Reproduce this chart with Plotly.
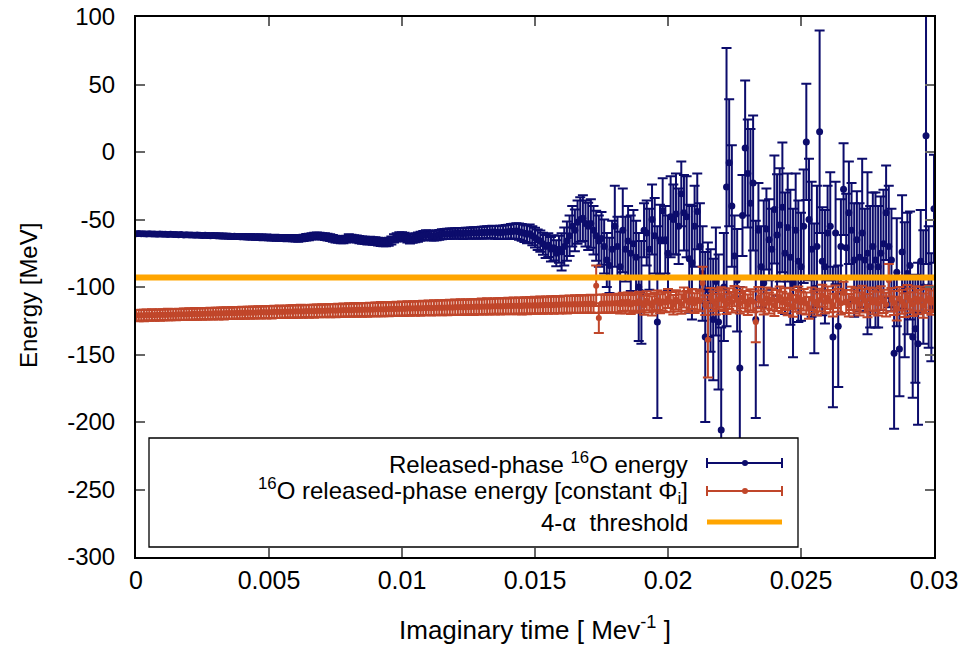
import numpy as np
import plotly.graph_objects as go

# ---------------- data ----------------
imag_time = np.round(np.linspace(0.0, 0.03, 301), 6)

released_energy = [
    -60.5,-60.4,-60.6,-60.5,-60.7,-60.6,-60.8,-60.7,-60.9,-60.8,
    -61.0,-60.9,-61.1,-61.0,-61.2,-61.1,-61.3,-61.2,-61.4,-61.3,
    -61.5,-61.4,-61.6,-61.5,-61.7,-61.8,-61.7,-61.9,-62.0,-61.9,
    -62.1,-62.0,-62.2,-62.3,-62.2,-62.4,-62.5,-62.4,-62.6,-62.7,
    -62.6,-62.8,-62.9,-62.8,-63.0,-63.1,-63.0,-63.2,-63.3,-63.2,
    -63.4,-63.5,-63.4,-63.6,-63.7,-63.6,-63.8,-63.9,-63.7,-63.8,
    -64.0,-64.1,-63.9,-63.6,-63.2,-62.9,-62.5,-62.3,-62.0,-62.2,
    -62.5,-62.7,-63.0,-63.5,-64.0,-64.5,-64.8,-65.0,-65.1,-64.5,
    -63.5,-63.8,-64.2,-64.5,-64.9,-65.3,-65.5,-65.8,-65.6,-65.9,
    -66.0,-66.4,-66.8,-67.0,-66.8,-66.5,-65.5,-64.0,-63.2,-62.5,
    -62.7,-63.0,-63.8,-64.5,-64.0,-63.5,-63.0,-62.4,-61.9,-61.5,
    -61.7,-62.0,-62.0,-61.8,-61.4,-61.0,-60.8,-60.6,-60.5,-60.4,
    -60.3,-60.2,-60.3,-60.4,-60.1,-60.2,-60.0,-59.9,-60.0,-59.8,
    -59.7,-59.6,-59.5,-59.4,-59.3,-59.5,-59.7,-59.6,-59.5,-59.2,
    -59.0,-58.8,-58.7,-58.6,-59.0,-59.6,-60.2,-61.0,-60.5,-62.0,
    -63.5,-65.0,-66.0,-68.0,-70.0,-69.0,-72.0,-71.0,-75.0,-72.0,
    -74.0,-70.0,-66.0,-62.0,-55.0,-58.0,-52.0,-50.0,-49.0,-53.0,
    -55.0,-53.0,-58.0,-62.0,-66.0,-64.0,-70.0,-80.0,-84.0,-72.0,
    -55.0,-70.0,-85.0,-58.0,-72.0,-66.0,-75.0,-68.0,-78.0,-100.0,
    -104.0,-58.0,-60.0,-72.0,-50.0,-62.0,-126.0,-65.0,-43.5,-65.0,
    -75.0,-48.0,-50.0,-46.0,-55.0,-31.0,-45.0,-48.0,-79.0,-82.0,
    -55.0,-44.0,-70.0,-90.0,-137.0,-102.0,-110.0,-124.0,-96.0,-126.0,
    -206.0,-100.0,-26.0,-8.0,-40.0,-77.0,-95.0,-160.0,-47.0,3.0,
    -16.0,-38.0,-23.0,-124.0,-58.0,-85.0,-97.0,-57.0,-65.0,-72.0,
    -42.5,-61.5,-54.0,-41.0,-75.0,-56.0,-78.0,-97.0,-58.0,-81.0,
    -85.0,-55.0,7.5,-50.0,-72.0,-101.0,-70.0,15.0,-81.0,-85.0,
    -60.0,-55.0,-137.0,-60.0,-129.0,-70.0,-27.5,-71.0,-45.0,-58.0,
    -80.0,-65.0,-78.0,-60.0,-80.0,-75.0,-85.0,-70.0,-80.0,-85.0,
    -75.0,-68.0,-45.0,-70.0,-80.0,-149.0,-89.0,-146.0,-74.0,-102.0,
    -90.0,-84.0,-137.0,-131.0,-142.0,-81.0,-100.0,12.0,-100.0,-115.0,
    -42.0,
]

released_error = [
    0.8,0.8,0.8,0.9,0.9,0.9,0.9,1.0,1.0,1.0,1.0,1.1,1.1,1.1,1.1,1.2,1.2,1.2,1.2,1.3,
    1.3,1.3,1.3,1.4,1.4,1.4,1.4,1.5,1.5,1.5,1.5,1.6,1.6,1.6,1.6,1.7,1.7,1.7,1.7,1.8,
    1.8,1.8,1.8,1.9,1.9,1.9,1.9,2.0,2.0,2.0,2.0,2.1,2.1,2.1,2.1,2.2,2.2,2.2,2.2,2.3,
    2.3,2.3,2.3,2.3,2.4,2.4,2.4,2.4,2.4,2.4,2.4,2.5,2.5,2.5,2.5,2.5,2.5,2.5,2.5,2.5,
    2.5,2.5,2.6,2.6,2.6,2.7,2.7,2.7,2.8,2.8,2.8,2.9,2.9,2.9,3.0,3.0,3.0,3.1,3.1,3.1,
    3.2,3.2,3.2,3.3,3.3,3.3,3.4,3.4,3.4,3.5,3.5,3.5,3.6,3.6,3.6,3.7,3.7,3.7,3.8,3.8,
    3.8,3.9,3.9,4.0,4.0,4.1,4.1,4.2,4.2,4.3,4.3,4.4,4.5,4.5,4.6,4.7,4.8,4.9,5.0,5.1,
    5.2,5.4,5.6,5.8,6.0,6.2,6.4,6.6,6.8,7.0,7.3,7.6,7.9,8.2,8.5,8.8,9.1,9.4,9.7,10.0,
    13.8,14.0,14.5,15.0,15.0,15.5,16.0,16.5,17.0,17.0,17.5,18.0,18.0,18.5,19.0,19.5,20.0,20.0,20.5,21.0,
    30.0,22.0,26.0,31.0,24.0,26.0,28.0,25.0,27.0,40.0,38.0,20.0,24.0,30.0,26.0,28.0,71.0,26.0,24.0,25.0,
    28.0,30.0,26.0,30.0,28.0,24.0,28.0,30.0,40.0,42.0,30.0,28.0,32.0,35.0,63.0,35.0,38.0,45.0,40.0,50.0,
    76.0,40.0,103.0,47.0,45.0,30.0,38.0,60.0,30.0,50.0,40.0,55.0,50.0,73.0,35.0,30.0,61.0,30.0,30.0,30.0,
    40.0,45.0,42.0,48.0,45.0,40.0,50.0,55.0,42.0,45.0,40.0,42.0,43.0,45.0,50.0,48.0,45.0,75.0,40.0,42.0,
    35.0,40.0,52.0,38.0,45.0,35.0,34.0,40.0,38.0,35.0,42.0,36.0,40.0,55.0,38.0,60.0,45.0,40.0,50.0,45.0,
    42.0,40.0,35.0,45.0,38.0,56.0,40.0,35.0,42.0,50.0,45.0,40.0,45.0,40.0,60.0,38.0,42.0,95.0,45.0,40.0,
    40.0,
]

const_phi_energy = [
    -121.0,-121.2,-120.9,-121.1,-120.8,-121.0,-120.7,-120.9,-120.6,-120.8,
    -120.5,-120.7,-120.4,-120.6,-120.3,-120.5,-120.2,-120.4,-120.1,-120.3,
    -120.0,-120.2,-119.9,-120.1,-119.8,-120.0,-119.7,-119.9,-119.6,-119.8,
    -119.5,-119.7,-119.4,-119.6,-119.3,-119.5,-119.2,-119.4,-119.1,-119.3,
    -119.0,-119.2,-118.9,-119.1,-118.8,-119.0,-118.7,-118.9,-118.6,-118.8,
    -118.5,-118.7,-118.4,-118.6,-118.3,-118.5,-118.2,-118.4,-118.1,-118.3,
    -118.0,-118.2,-117.9,-118.1,-117.8,-118.0,-117.7,-117.9,-117.6,-117.8,
    -117.5,-117.7,-117.4,-117.6,-117.3,-117.5,-117.2,-117.4,-117.1,-117.3,
    -117.0,-117.2,-116.9,-117.1,-116.8,-117.0,-116.7,-116.9,-116.6,-116.8,
    -116.5,-116.7,-116.4,-116.6,-116.3,-116.5,-116.2,-116.4,-116.1,-116.3,
    -116.0,-116.3,-115.8,-116.1,-115.7,-116.0,-115.6,-115.9,-115.5,-115.8,
    -115.4,-115.8,-115.3,-115.6,-115.2,-115.5,-115.1,-115.4,-115.0,-115.3,
    -114.9,-115.2,-114.8,-115.1,-114.7,-115.0,-114.6,-114.9,-114.5,-114.8,
    -114.4,-114.7,-114.3,-114.6,-114.2,-114.5,-114.1,-114.4,-114.0,-114.3,
    -113.9,-114.2,-113.8,-114.1,-113.7,-114.3,-113.6,-114.0,-113.5,-113.9,
    -113.4,-113.8,-113.3,-113.7,-113.2,-113.6,-113.1,-113.5,-113.0,-113.4,
    -113.0,-112.8,-113.2,-112.7,-113.0,-112.6,-112.9,-112.5,-112.8,-112.4,
    -112.7,-112.3,-112.6,-99.0,-123.0,-112.2,-112.5,-112.1,-112.4,-112.0,
    -112.3,-111.9,-112.8,-111.0,-112.5,-110.8,-113.0,-111.6,-112.2,-110.5,
    -111.8,-113.5,-110.2,-112.0,-114.0,-111.2,-109.8,-112.4,-110.5,-111.5,
    -108.5,-111.0,-113.2,-109.5,-110.8,-112.6,-107.8,-110.2,-111.5,-108.9,
    -112.0,-109.4,-110.6,-97.0,-113.5,-139.0,-108.2,-110.5,-112.8,-109.0,
    -107.5,-110.2,-112.5,-108.6,-111.3,-106.8,-109.9,-112.1,-108.0,-110.7,
    -113.2,-109.5,-111.0,-126.0,-107.9,-110.4,-112.6,-108.3,-111.8,-109.2,
    -113.5,-110.0,-107.6,-111.4,-109.0,-112.9,-108.5,-114.0,-110.3,-107.8,
    -111.6,-109.4,-112.2,-115.5,-108.7,-110.9,-113.0,-109.6,-106.5,-111.2,
    -108.0,-110.5,-113.4,-107.2,-109.8,-112.0,-104.5,-110.8,-113.5,-108.4,
    -111.0,-109.2,-112.6,-107.5,-110.2,-113.8,-108.9,-111.4,-109.6,-112.3,
    -108.2,-110.6,-113.0,-95.0,-109.5,-111.8,-116.0,-108.7,-110.9,-113.5,
    -107.6,-110.1,-112.7,-108.5,-111.2,-109.0,-113.8,-110.4,-108.1,-111.6,
    -109.3,
]

const_phi_error = [
    4.0,4.1,4.0,4.2,4.1,4.0,4.2,4.1,4.0,4.2,4.1,4.0,4.2,4.1,4.0,4.2,4.1,4.0,4.2,4.1,
    4.2,4.1,4.3,4.2,4.1,4.3,4.2,4.1,4.3,4.2,4.1,4.3,4.2,4.4,4.3,4.2,4.4,4.3,4.2,4.4,
    4.3,4.4,4.3,4.5,4.4,4.3,4.5,4.4,4.3,4.5,4.4,4.6,4.5,4.4,4.6,4.5,4.4,4.6,4.5,4.7,
    4.6,4.5,4.7,4.6,4.5,4.7,4.6,4.8,4.7,4.6,4.8,4.7,4.6,4.8,4.7,4.9,4.8,4.7,4.9,4.8,
    4.9,4.8,5.0,4.9,4.8,5.0,4.9,5.1,5.0,4.9,5.1,5.0,5.2,5.1,5.0,5.2,5.1,5.0,5.2,5.1,
    5.2,5.1,5.3,5.2,5.1,5.3,5.2,5.4,5.3,5.2,5.4,5.3,5.5,5.4,5.3,5.5,5.4,5.6,5.5,5.4,
    5.6,5.5,5.7,5.6,5.5,5.7,5.6,5.8,5.7,5.6,5.8,5.7,5.9,5.8,5.7,5.9,5.8,6.0,5.9,5.8,
    6.0,5.9,6.1,6.0,5.9,6.1,6.0,6.2,6.1,6.0,6.2,6.1,6.3,6.2,6.1,6.3,6.2,6.4,6.3,6.2,
    6.4,6.3,6.5,6.4,6.3,6.5,6.4,6.6,6.5,6.4,6.6,6.5,6.7,15.0,11.0,6.6,6.8,6.7,6.6,6.8,
    6.7,6.9,6.8,6.7,6.9,6.8,7.0,6.9,6.8,7.0,6.9,7.1,7.0,6.9,7.1,7.0,7.2,7.1,7.0,7.2,
    7.1,7.3,7.2,7.1,7.3,7.2,7.4,7.3,7.2,7.4,7.3,7.5,7.4,12.0,7.3,28.0,7.5,7.4,7.6,7.5,
    7.4,7.6,7.5,7.7,7.6,7.5,7.7,7.6,7.8,7.7,7.6,7.8,7.7,15.0,7.9,7.8,7.7,7.9,7.8,8.0,
    7.9,7.8,8.0,7.9,8.1,8.0,7.9,8.1,8.0,8.2,8.1,8.0,8.2,8.1,8.3,8.2,8.1,8.3,8.2,8.4,
    8.3,8.2,8.4,8.3,8.5,8.4,8.3,8.5,8.4,8.6,8.5,8.4,8.6,8.5,8.7,8.6,8.5,8.7,8.6,8.8,
    8.7,8.6,8.8,12.0,8.7,8.9,8.8,8.7,8.9,8.8,9.0,8.9,8.8,9.0,8.9,9.1,9.0,8.9,9.1,9.0,
    9.2,
]

threshold_time = [0.0, 0.03]
threshold_energy = [-93.0, -93.0]

x_ticks = [0, 0.005, 0.01, 0.015, 0.02, 0.025, 0.03]
x_tick_labels = ["0", "0.005", "0.01", "0.015", "0.02", "0.025", "0.03"]
y_ticks = [100, 50, 0, -50, -100, -150, -200, -250, -300]
y_tick_labels = ["100", "50", "0", "-50", "-100", "-150", "-200", "-250", "-300"]

legend_labels = [
    "Released-phase <sup>16</sup>O energy",
    "<sup>16</sup>O released-phase energy [constant Φ<sub>i</sub>]",
    "4-α  threshold",
]
x_title = "Imaginary time [ Mev<sup>-1</sup> ]"
y_title = "Energy [MeV]"

BLUE = "#0c0c6c"
RED = "#c0462a"
ORANGE = "#ffa500"
FONT = "Liberation Sans, Arial, sans-serif"

fig = go.Figure()
fig.add_trace(go.Scatter(
    x=imag_time, y=released_energy, mode="markers",
    marker=dict(color=BLUE, size=7, line=dict(width=0)),
    error_y=dict(type="data", array=released_error, color=BLUE, thickness=2, width=5),
    showlegend=False,
))
fig.add_trace(go.Scatter(
    x=imag_time, y=const_phi_energy, mode="markers",
    marker=dict(color=RED, size=6, line=dict(width=0)),
    error_y=dict(type="data", array=const_phi_error, color=RED, thickness=2, width=5),
    showlegend=False,
))
fig.add_trace(go.Scatter(
    x=threshold_time, y=threshold_energy, mode="lines",
    line=dict(color=ORANGE, width=6), showlegend=False,
))

FIG_W, FIG_H = 966, 646
L, R, T, B = 136, 934, 17, 557   # pixel coordinates of plot area


def px(xp):
    return (xp - L) / (R - L)


def py(yp):
    return (B - yp) / (B - T)


shapes = [dict(type="rect", xref="paper", yref="paper",
               x0=px(149), x1=px(798), y0=py(547), y1=py(438),
               line=dict(color="black", width=1.3), fillcolor="white", layer="above")]
annotations = []
rows = [463, 491, 522]
colors = [BLUE, RED, ORANGE]
for k, (row, col, lab) in enumerate(zip(rows, colors, legend_labels)):
    annotations.append(dict(xref="paper", yref="paper", x=px(690), y=py(row),
                            text=lab, showarrow=False, xanchor="right", yanchor="middle",
                            font=dict(family=FONT, size=24, color="black")))
    if k < 2:
        shapes.append(dict(type="line", xref="paper", yref="paper", x0=px(707), x1=px(782),
                           y0=py(row), y1=py(row), line=dict(color=col, width=2), layer="above"))
        for cx in (707, 782):
            shapes.append(dict(type="line", xref="paper", yref="paper", x0=px(cx), x1=px(cx),
                               y0=py(row - 5), y1=py(row + 5), line=dict(color=col, width=2),
                               layer="above"))
        shapes.append(dict(type="circle", xref="paper", yref="paper", xsizemode="pixel",
                           ysizemode="pixel", xanchor=px(745), yanchor=py(row),
                           x0=-3, x1=3, y0=-3, y1=3, fillcolor=col, line=dict(color=col, width=0),
                           layer="above"))
    else:
        shapes.append(dict(type="line", xref="paper", yref="paper", x0=px(707), x1=px(782),
                           y0=py(row), y1=py(row), line=dict(color=col, width=5), layer="above"))

# axis titles
annotations.append(dict(xref="paper", yref="paper", x=px(535), y=py(628), text=x_title,
                        showarrow=False, xanchor="center", yanchor="middle",
                        font=dict(family=FONT, size=26, color="black")))
annotations.append(dict(xref="paper", yref="paper", x=px(29), y=py(296), text=y_title,
                        showarrow=False, xanchor="center", yanchor="middle", textangle=-90,
                        font=dict(family=FONT, size=24, color="black")))

fig.update_layout(
    width=FIG_W, height=FIG_H,
    margin=dict(l=L, r=FIG_W - R, t=T, b=FIG_H - B, autoexpand=False),
    plot_bgcolor="white", paper_bgcolor="white",
    font=dict(family=FONT, size=24, color="black"),
    shapes=shapes, annotations=annotations,
)
fig.update_xaxes(
    range=[0, 0.03], tickvals=x_ticks, ticktext=x_tick_labels, automargin=False,
    showgrid=False, zeroline=False, showline=True, linecolor="black", linewidth=2,
    mirror="allticks", ticks="inside", ticklen=9, tickcolor="#666", tickwidth=1.5,
    tickfont=dict(family=FONT, size=25), ticklabelstandoff=0,
)
fig.update_yaxes(
    range=[-300, 100], tickvals=y_ticks, ticktext=y_tick_labels, automargin=False,
    showgrid=False, zeroline=False, showline=True, linecolor="black", linewidth=2,
    mirror="allticks", ticks="inside", ticklen=9, tickcolor="#666", tickwidth=1.5,
    tickfont=dict(family=FONT, size=24), ticklabelstandoff=14,
)

# remove the browser's default 8px page margin so the figure sits at (0, 0)
fig.write_html(
    "out.html",
    config={"displayModeBar": False},
    post_script="document.body.style.margin='0px';document.body.style.overflow='hidden';",
)
